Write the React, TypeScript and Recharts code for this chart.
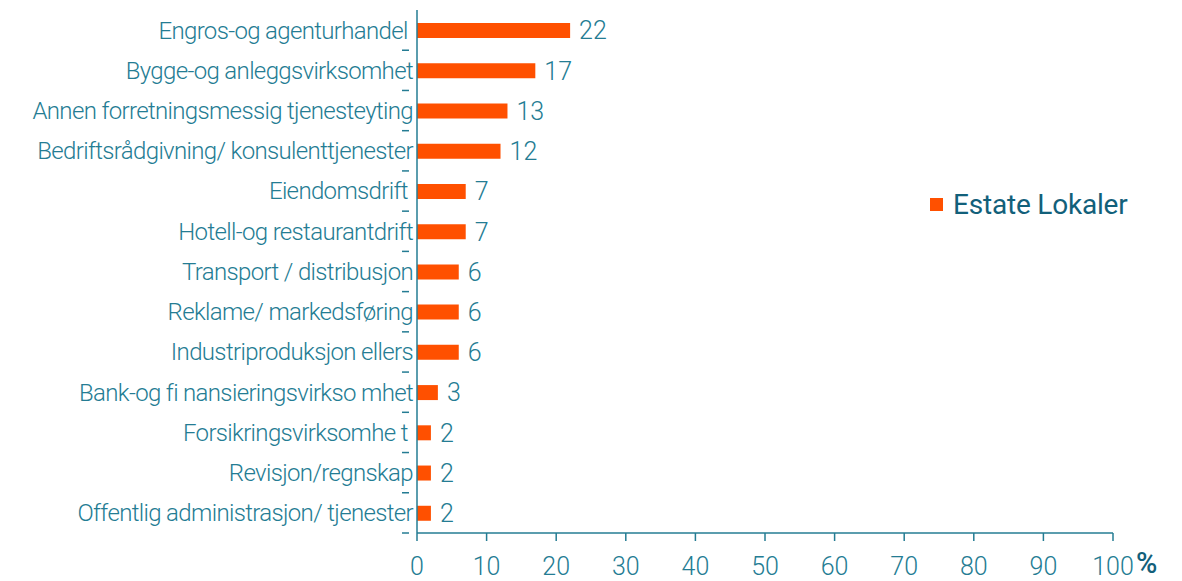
import { Bar, BarChart, LabelList, XAxis, YAxis } from "recharts";

// Bransjefordeling for Estate Lokaler, andel i prosent.

const TEAL = "#247c93";
const TEAL_DARK = "#12607a";
const BAR_ORANGE = "#ff5000";
const FONT = "Roboto, 'Open Sans', sans-serif";

const categories = [
  "Engros-og agenturhandel\u00a0",
  "Bygge-og anleggsvirksomhet",
  "Annen forretningsmessig tjenesteyting",
  "Bedriftsrådgivning/ konsulenttjenester",
  "Eiendomsdrift\u00a0",
  "Hotell-og restaurantdrift",
  "Transport / distribusjon",
  "Reklame/ markedsføring",
  "Industriproduksjon ellers",
  "Bank-og fi nansieringsvirkso mhet",
  "Forsikringsvirksomhe t\u00a0",
  "Revisjon/regnskap",
  "Offentlig administrasjon/ tjenester",
];

const estateLokaler = [22, 17, 13, 12, 7, 7, 6, 6, 6, 3, 2, 2, 2];

const xTicks = [0, 10, 20, 30, 40, 50, 60, 70, 80, 90, 100];

const data = categories.map((name, i) => ({ name, value: estateLokaler[i] }));

interface TickProps {
  x?: number;
  y?: number;
  payload?: { value: string; offset?: number };
}

// kategori-etikett + skillestrek mellom radene (Recharts legger ticks midt i båndet)
function CategoryTick({ x = 0, y = 0, payload }: TickProps) {
  const half = payload?.offset ?? 0;
  return (
    <g>
      <line x1={x - 7} x2={x} y1={y + half} y2={y + half} stroke={TEAL} strokeWidth={1.5} />
      <text
        x={x + 4}
        y={y}
        dy="0.35em"
        textAnchor="end"
        fill={TEAL}
        fontFamily={FONT}
        fontWeight={300}
        fontSize={24}
        letterSpacing={-0.65}
      >
        {payload?.value}
      </text>
    </g>
  );
}

export default function App() {
  return (
    <div style={{ position: "absolute", left: 0, top: 0, width: 1182, height: 581, background: "#fff" }}>
      <BarChart
        width={1182}
        height={581}
        data={data}
        layout="vertical"
        margin={{ top: 10, right: 69, left: 0, bottom: 0 }}
      >
        <XAxis
          type="number"
          domain={[0, 100]}
          ticks={xTicks}
          interval={0}
          height={48}
          tick={{ fill: TEAL, fontSize: 25, fontFamily: FONT, fontWeight: 300 }}
          tickSize={8}
          tickMargin={16}
          axisLine={{ stroke: TEAL, strokeWidth: 1.5 }}
          tickLine={{ stroke: TEAL, strokeWidth: 1.5 }}
        />
        <YAxis
          type="category"
          dataKey="name"
          width={417}
          interval={0}
          tick={<CategoryTick />}
          tickLine={false}
          axisLine={{ stroke: TEAL, strokeWidth: 1.5 }}
        />
        <Bar dataKey="value" fill={BAR_ORANGE} barSize={15} isAnimationActive={false}>
          <LabelList
            dataKey="value"
            position="right"
            offset={9}
            fill={TEAL}
            fontSize={25}
            fontFamily={FONT}
            fontWeight={300}
          />
        </Bar>
      </BarChart>
      {/* forklaring */}
      <div
        style={{
          position: "absolute",
          left: 930,
          top: 188,
          display: "flex",
          alignItems: "center",
          fontFamily: FONT,
        }}
      >
        <span style={{ width: 13, height: 13, background: BAR_ORANGE, marginRight: 10 }} />
        <span style={{ color: TEAL_DARK, fontSize: 28, fontWeight: 400, letterSpacing: -0.2 }}>
          Estate Lokaler
        </span>
      </div>
      <span
        style={{
          position: "absolute",
          left: 1136,
          top: 546,
          color: TEAL_DARK,
          fontFamily: FONT,
          fontSize: 29,
          fontWeight: 500,
        }}
      >
        %
      </span>
    </div>
  );
}
